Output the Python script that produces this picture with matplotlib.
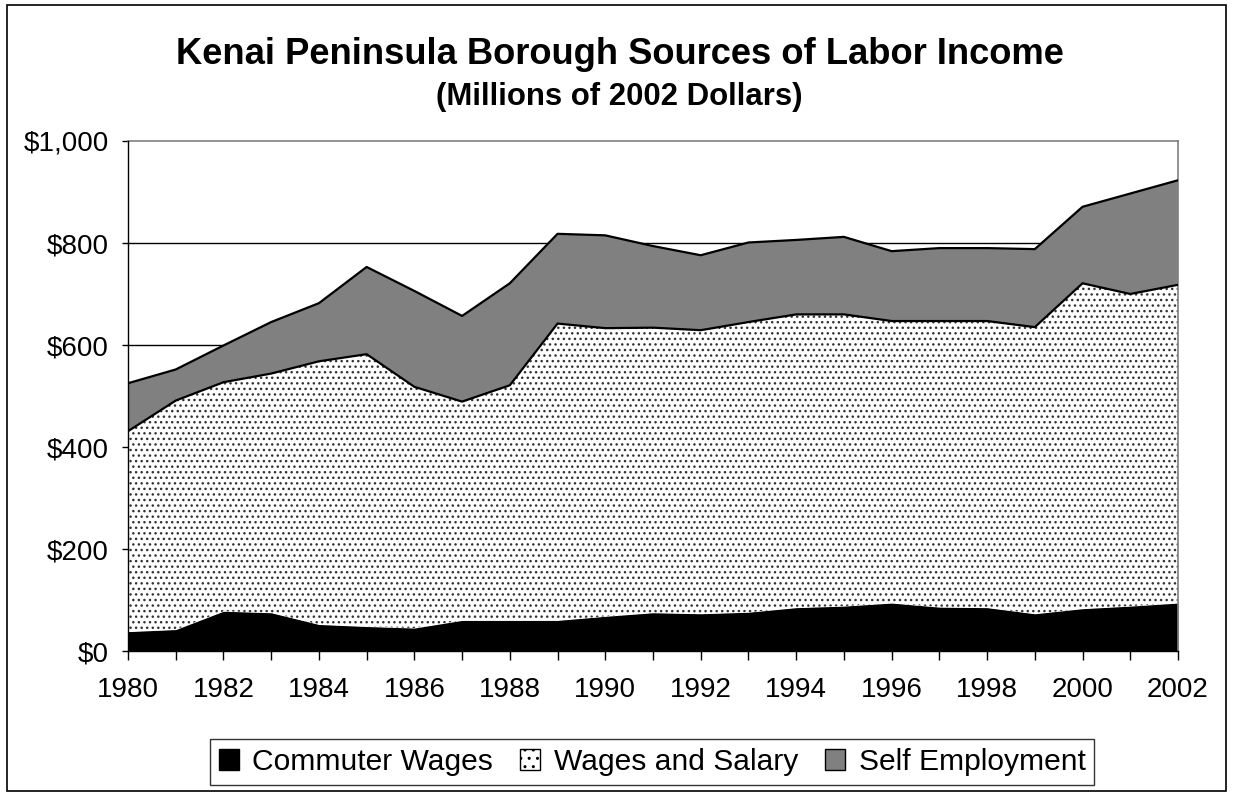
import numpy as np
import matplotlib
matplotlib.use("Agg")
import matplotlib.pyplot as plt
from matplotlib.patches import Patch, Rectangle

plt.rcParams['font.family'] = ['Liberation Sans', 'DejaVu Sans']
plt.rcParams['hatch.linewidth'] = 1.0

# Kenai Peninsula Borough - labor income, millions of 2002 dollars
years = list(range(1980, 2003))
commuter = [38, 42, 78, 75, 52, 48, 45, 60, 60, 60, 68, 75,
            73, 76, 85, 88, 94, 86, 85, 73, 83, 88, 94]
wages = [393, 449, 449, 469, 516, 534, 473, 429, 461, 582, 565, 559,
         556, 569, 575, 572, 553, 561, 562, 562, 638, 612, 624]
self_emp = [94, 61, 72, 101, 114, 171, 188, 168, 200, 176, 182, 160,
            147, 156, 146, 152, 137, 143, 143, 153, 150, 197, 205]
series_names = ["Commuter Wages", "Wages and Salary", "Self Employment"]
y_ticks = [0, 200, 400, 600, 800, 1000]
y_labels = ["$0", "$200", "$400", "$600", "$800", "$1,000"]

W, H = 1233, 792
fig = plt.figure(figsize=(W / 100, H / 100), dpi=100)
ax = fig.add_axes([128 / W, 1 - 651 / H, (1178 - 128) / W, (651 - 141) / H])

x = np.array(years)
c = np.array(commuter)
w = c + np.array(wages)
t = w + np.array(self_emp)

# grid behind the areas
for yv in y_ticks[1:-1]:
    ax.axhline(yv, color='black', lw=1.0, zorder=0)

ax.fill_between(x, 0, c, facecolor='black', edgecolor='black', lw=0, zorder=2)
ax.fill_between(x, c, w, facecolor='white', edgecolor='#333333', hatch='...', lw=0, zorder=2)
ax.fill_between(x, w, t, facecolor='#808080', lw=0, zorder=2)
ax.plot(x, w, color='black', lw=1.6, zorder=3)
ax.plot(x, t, color='black', lw=1.6, zorder=3)

ax.set_xlim(1980, 2002)
ax.set_ylim(0, 1000)
ax.set_xticks(years)
ax.set_xticklabels([str(yr) if yr % 2 == 0 else "" for yr in years])
ax.set_yticks(y_ticks)
ax.set_yticklabels(y_labels)
ax.tick_params(axis='x', length=6.5, width=1, pad=12, labelsize=20, direction='out')
ax.tick_params(axis='y', length=4, width=1, pad=10, labelsize=20, direction='out')

for s in ['left', 'bottom']:
    ax.spines[s].set_color('black')
    ax.spines[s].set_linewidth(1.0)
for s in ['top', 'right']:
    ax.spines[s].set_color('#808080')
    ax.spines[s].set_linewidth(1.2)
ax.spines['left'].set_zorder(4)
ax.spines['bottom'].set_zorder(4)

# titles
fig.text(619.5 / W, 1 - 64.5 / H, "Kenai Peninsula Borough Sources of Labor Income",
         ha='center', va='baseline', fontsize=26.2, fontweight='bold')
fig.text(619 / W, 1 - 105 / H, "(Millions of 2002 Dollars)",
         ha='center', va='baseline', fontsize=22.4, fontweight='bold')

# legend
handles = [Patch(facecolor='black', edgecolor='black', lw=1),
           Patch(facecolor='white', edgecolor='black', hatch='..', lw=1),
           Patch(facecolor='#808080', edgecolor='black', lw=1)]
leg = fig.legend(handles, series_names, loc='center', ncol=3,
                 bbox_to_anchor=(652 / W, 1 - 762 / H), fontsize=21.6,
                 frameon=True, fancybox=False, edgecolor='black',
                 handlelength=0.67, handleheight=0.67, handletextpad=0.45,
                 columnspacing=0.9, borderpad=0.3, borderaxespad=0)
leg.get_frame().set_linewidth(1.0)

# outer chart border
fig.patches.append(Rectangle((7 / W, 1 / H), (1226 - 7) / W, (787 - 1) / H,
                             transform=fig.transFigure, fill=False,
                             edgecolor='black', lw=1.2))

fig.savefig("out.png", dpi=100)
